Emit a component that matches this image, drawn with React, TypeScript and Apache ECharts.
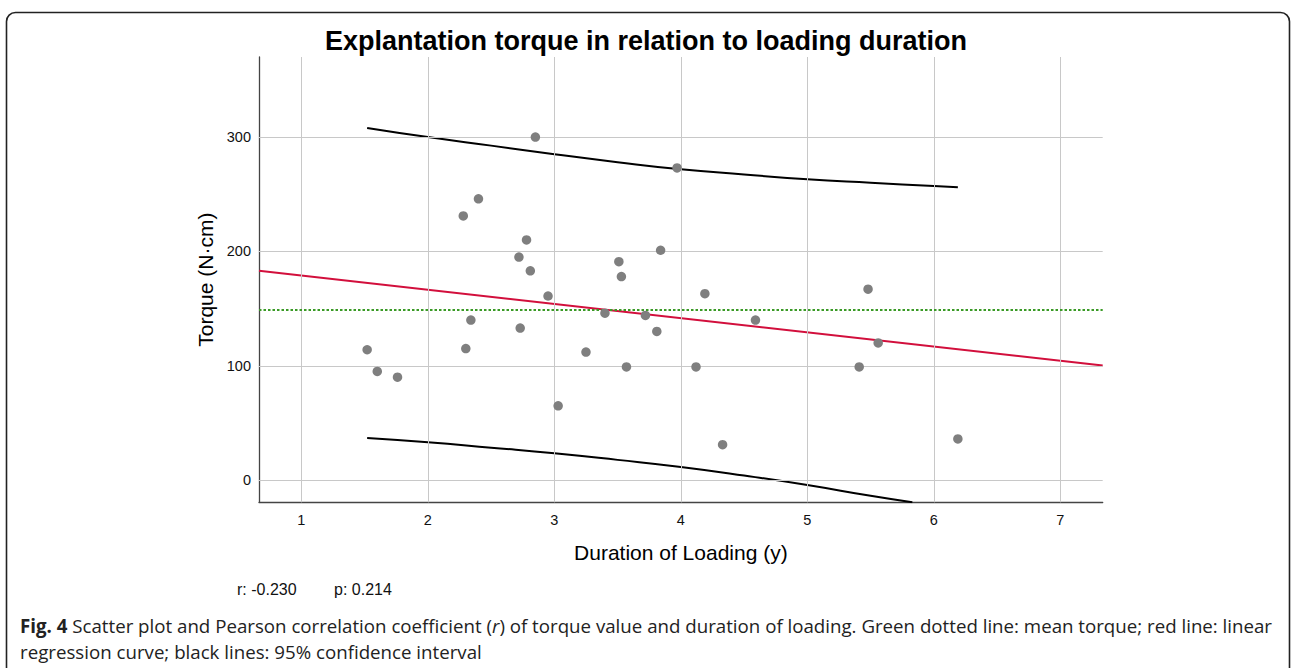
import React, { useEffect, useRef } from "react";
import * as echarts from "echarts";

// ---- Data ----
const durationYears = [
  2.85, 3.97, 2.28, 2.40, 2.78, 2.72, 2.81, 2.95, 3.51, 3.53, 3.84, 4.19, 5.48,
  1.52, 1.60, 1.76, 2.30, 2.34, 2.73, 3.03, 3.25, 3.40, 3.57, 3.72, 3.81,
  4.12, 4.33, 4.59, 5.41, 5.56, 6.19,
];
const torqueNcm = [
  300, 273, 231, 246, 210, 195, 183, 161, 191, 178, 201, 163, 167,
  114, 95, 90, 115, 140, 133, 65, 112, 146, 99, 144, 130,
  99, 31, 140, 99, 120, 36,
];
const meanTorque = 148.6;
const regressionX = [0.665, 7.335];
const regressionY = [183.1, 100.3];
const upperCiX = [1.52, 2, 2.5, 3, 3.5, 4, 4.5, 5, 5.5, 6, 6.19];
const upperCiY = [308, 300, 292.5, 285, 278, 271.8, 267.3, 263, 260, 257.2, 256];
const lowerCiX = [1.52, 2, 2.5, 3, 3.5, 4, 4.5, 5, 5.5, 5.83];
const lowerCiY = [36.8, 33.2, 28.4, 23.5, 17.7, 11.5, 4, -4.3, -13.7, -19.4];
const xTicks = [1, 2, 3, 4, 5, 6, 7];
const yTicks = [0, 100, 200, 300];
const xRange = [0.665, 7.335];
const yRange = [-19.4, 370];

const titleText = "Explantation torque in relation to loading duration";
const xName = "Duration of Loading (y)";
const yName = "Torque (N·cm)";
const statR = "r: -0.230";
const statP = "p: 0.214";

const zip = (xs: number[], ys: number[]) => xs.map((x, i) => [x, ys[i]]);

export default function App() {
  const ref = useRef<HTMLDivElement>(null);
  useEffect(() => {
    if (!ref.current) return;
    const chart = echarts.init(ref.current, undefined, { renderer: "svg" });
    const sans = "Liberation Sans, Arial, sans-serif";
    const gridColor = "#c8c8c8";
    chart.setOption({
      animation: false,
      backgroundColor: "#ffffff",
      title: {
        text: titleText,
        left: "center",
        top: 22,
        textStyle: { fontFamily: sans, fontSize: 27, fontWeight: "bold", color: "#000" },
      },
      grid: { left: 259, top: 57, right: 189.3, bottom: 165.7, containLabel: false },
      xAxis: {
        type: "value",
        min: xRange[0],
        max: xRange[1],
        name: xName,
        nameLocation: "middle",
        nameGap: 40,
        nameTextStyle: { fontFamily: sans, fontSize: 21, color: "#000" },
        axisLine: { show: true, onZero: false, lineStyle: { color: "#444", width: 1.3 } },
        axisTick: { show: false },
        splitLine: { show: false },
        axisLabel: {
          customValues: xTicks,
          fontFamily: sans,
          fontSize: 14.5,
          color: "#111",
          margin: 10,
        },
      },
      yAxis: {
        type: "value",
        min: yRange[0],
        max: yRange[1],
        name: yName,
        nameLocation: "middle",
        nameGap: 43,
        nameTextStyle: { fontFamily: sans, fontSize: 21, color: "#000" },
        axisLine: { show: true, onZero: false, lineStyle: { color: "#444", width: 1.3 } },
        axisTick: { show: false },
        splitLine: { show: false },
        axisLabel: {
          customValues: yTicks,
          fontFamily: sans,
          fontSize: 14.5,
          color: "#111",
          margin: 8,
        },
      },
      series: [
        {
          name: "grid",
          type: "line",
          data: [],
          silent: true,
          z: 1,
          markLine: {
            silent: true,
            symbol: "none",
            label: { show: false },
            lineStyle: { color: gridColor, width: 1, type: "solid" },
            data: [
              ...xTicks.map((v) => ({ xAxis: v })),
              ...yTicks.map((v) => ({ yAxis: v })),
            ],
          },
        },
        {
          name: "mean",
          type: "line",
          data: [],
          silent: true,
          z: 3,
          markLine: {
            silent: true,
            symbol: "none",
            label: { show: false },
            lineStyle: { color: "#3a9a26", width: 2, type: [2.5, 2] },
            data: [{ yAxis: meanTorque }],
          },
        },
        {
          name: "regression",
          type: "line",
          data: zip(regressionX, regressionY),
          showSymbol: false,
          lineStyle: { color: "#d20f3c", width: 2 },
          z: 4,
        },
        {
          name: "upper",
          type: "line",
          data: zip(upperCiX, upperCiY),
          smooth: true,
          showSymbol: false,
          lineStyle: { color: "#000", width: 2 },
          z: 4,
        },
        {
          name: "lower",
          type: "line",
          data: zip(lowerCiX, lowerCiY),
          smooth: true,
          showSymbol: false,
          lineStyle: { color: "#000", width: 2 },
          z: 4,
        },
        {
          name: "torque",
          type: "scatter",
          data: zip(durationYears, torqueNcm),
          symbolSize: 9.5,
          itemStyle: { color: "#7f7f7f", opacity: 1 },
          z: 5,
        },
      ],
      graphic: [
        {
          type: "rect",
          shape: { x: 6.5, y: 12.5, width: 1283, height: 700, r: 9 },
          style: { fill: "none", stroke: "#222", lineWidth: 1.6 },
          silent: true,
          z: 10,
        },
        {
          type: "text",
          x: 237,
          y: 589,
          style: {
            text: statR,
            font: `16px ${sans}`,
            fill: "#111",
            verticalAlign: "middle",
          },
        },
        {
          type: "text",
          x: 334,
          y: 589,
          style: {
            text: statP,
            font: `16px ${sans}`,
            fill: "#111",
            verticalAlign: "middle",
          },
        },
        {
          type: "text",
          x: 20,
          y: 625,
          style: {
            text:
              "{b|Fig. 4} Scatter plot and Pearson correlation coefficient ({i|r}) of torque value and duration of loading. Green dotted line: mean torque; red line: linear",
            font: "18.7px Open Sans, sans-serif",
            fill: "#222",
            verticalAlign: "middle",
            rich: {
              b: { fontFamily: "Open Sans", fontSize: 18.7, fontWeight: "bold", fill: "#222" },
              i: { fontFamily: "Open Sans", fontSize: 18.7, fontStyle: "italic", fill: "#222" },
            },
          },
        },
        {
          type: "text",
          x: 20,
          y: 651,
          style: {
            text: "regression curve; black lines: 95% confidence interval",
            font: "18.7px Open Sans, sans-serif",
            fill: "#222",
            verticalAlign: "middle",
          },
        },
      ],
    });
    return () => chart.dispose();
  }, []);
  return (
    <div
      ref={ref}
      style={{ position: "absolute", left: 0, top: 0, width: 1292, height: 668 }}
    />
  );
}
